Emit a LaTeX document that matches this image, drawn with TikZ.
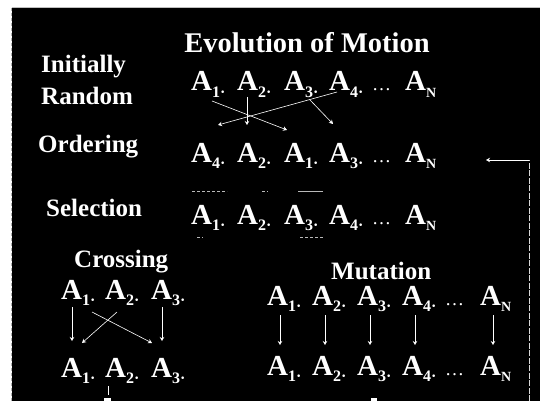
\documentclass[tikz,border=0pt]{standalone}
\usepackage{fontspec}
\setmainfont{Liberation Serif}
\usetikzlibrary{arrows.meta,calc}
% one entry "A_i." and the last entry "A_N"
\newcommand\Aent[1]{A\raisebox{-0.22em}{\fontsize{16}{16}\selectfont #1·}}
\newcommand\Aend{A\raisebox{-0.22em}{\fontsize{14}{14}\selectfont N}}
\newcommand\Adots{\fontsize{19}{19}\selectfont\mdseries\dots}
\begin{document}
\begin{tikzpicture}[x=1pt,y=-1pt,
  ent/.style={anchor=base west,inner sep=0pt,text=white,font=\fontsize{29}{29}\selectfont\bfseries},
  lbl/.style={anchor=base west,inner sep=0pt,text=white,font=\fontsize{25}{30}\selectfont\bfseries},
  ttl/.style={anchor=base,inner sep=0pt,text=white,font=\fontsize{28.5}{30}\selectfont\bfseries},
  link/.style={white,line width=0.6pt,-{Stealth[length=4pt,width=4.5pt]}},
  seldash/.style={gray!55,line width=0.6pt,dash pattern=on 2.5pt off 2.5pt},
  loopline/.style={white!85!black,line width=0.6pt,dash pattern=on 6pt off 1.5pt}]
\useasboundingbox (0,0) rectangle (540,401);
\fill[white] (0,0) rectangle (540,401);
\fill[black] (12,8) rectangle (540,401);
\draw[gray!60,line width=0.5pt,dash pattern=on 3pt off 2pt] (11,8) -- (11,401);
\draw[gray!50,line width=0.5pt] (12,7.7) -- (540,7.7);

% title and stage labels
\node[ttl] (title) at (307,53) {Evolution of Motion};
\node[lbl] (init) at (41,73) {Initially};
\node[lbl] (rand) at (41,105) {Random};
\node[lbl] (ord) at (38,152) {Ordering};
\node[lbl] (sel) at (46,216) {Selection};
\node[lbl] (cross) at (74,267) {Crossing};
\node[lbl] (mut) at (331,279) {Mutation};

% initial population
\node[ent] (r1a1) at (191,91) {\Aent{1}};
\node[ent] (r1a2) at (237,91) {\Aent{2}};
\node[ent] (r1a3) at (284,91) {\Aent{3}};
\node[ent] (r1a4) at (329,91) {\Aent{4}};
\node[ent] (r1d) at (372,91) {\Adots};
\node[ent] (r1an) at (405,91) {\Aend};

% ordered population
\node[ent] (r2a1) at (191,162) {\Aent{4}};
\node[ent] (r2a2) at (237,162) {\Aent{2}};
\node[ent] (r2a3) at (284,162) {\Aent{1}};
\node[ent] (r2a4) at (329,162) {\Aent{3}};
\node[ent] (r2d) at (372,162) {\Adots};
\node[ent] (r2an) at (405,162) {\Aend};

% selected population, the kept ones faintly framed
\node[ent] (r3a1) at (191,224) {\Aent{1}};
\node[ent] (r3a2) at (237,224) {\Aent{2}};
\node[ent] (r3a3) at (284,224) {\Aent{3}};
\node[ent] (r3a4) at (329,224) {\Aent{4}};
\node[ent] (r3d) at (372,224) {\Adots};
\node[ent] (r3an) at (405,224) {\Aend};
\draw[seldash] ($(r3a1.base west)+(1,-33)$) -- ($(r3a1.base west)+(36,-33)$);
\draw[seldash] ($(r3a2.base west)+(25,-33)$) -- ($(r3a2.base west)+(31,-33)$);
\draw[gray!55,line width=0.6pt] ($(r3a3.base west)+(14,-33)$) -- ($(r3a3.base west)+(39,-33)$);
\draw[seldash] ($(r3a1.base west)+(6,13)$) -- ($(r3a1.base west)+(12,13)$);
\draw[seldash] ($(r3a3.base west)+(16,13)$) -- ($(r3a3.base west)+(39,13)$);

% reordering arrows
\draw[link] ($(r1a1.base west)+(21,10)$) -- ($(r2a3.base west)+(3,-32)$);
\draw[link] ($(r1a2.base west)+(10,6)$) -- ($(r2a2.base west)+(10,-37)$);
\draw[link] ($(r1a4.base west)+(8,1)$) -- coordinate[pos=0.23] (fork) ($(r2a1.base west)+(27,-37)$);
\draw[link] (fork) -- ($(r2a4.base west)+(4,-38)$);

% crossing
\node[ent] (c1a1) at (61,299) {\Aent{1}};
\node[ent] (c1a2) at (105,299) {\Aent{2}};
\node[ent] (c1a3) at (151,299) {\Aent{3}};
\node[ent] (c2a1) at (61,377) {\Aent{1}};
\node[ent] (c2a2) at (105,377) {\Aent{2}};
\node[ent] (c2a3) at (151,377) {\Aent{3}};
\draw[link] ($(c1a1.base west)+(11,8)$) -- ($(c2a1.base west)+(11,-36)$);
\draw[link] ($(c1a3.base west)+(11,8)$) -- ($(c2a3.base west)+(11,-36)$);
\draw[link] ($(c1a2.base west)+(12,13)$) -- ($(c2a1.base west)+(21,-34)$);
\draw[link] ($(c1a1.base west)+(31,13)$) -- ($(c2a3.base west)+(1,-34)$);
\draw[white,line width=0.5pt] ($(c2a2.base west)+(3,9)$) -- ($(c2a2.base west)+(3,18)$);
\fill[white] ($(c2a2.base west)+(-1,21)$) rectangle ($(c2a2.base west)+(6,24)$);

% mutation
\node[ent] (m1a1) at (267,305) {\Aent{1}};
\node[ent] (m1a2) at (312,305) {\Aent{2}};
\node[ent] (m1a3) at (357,305) {\Aent{3}};
\node[ent] (m1a4) at (402,305) {\Aent{4}};
\node[ent] (m1d) at (445,305) {\Adots};
\node[ent] (m1an) at (480,305) {\Aend};
\node[ent] (m2a1) at (267,375) {\Aent{1}};
\node[ent] (m2a2) at (312,375) {\Aent{2}};
\node[ent] (m2a3) at (357,375) {\Aent{3}};
\node[ent] (m2a4) at (402,375) {\Aent{4}};
\node[ent] (m2d) at (445,375) {\Adots};
\node[ent] (m2an) at (480,375) {\Aend};
\foreach \i in {a1,a2,a3,a4,an}
  \draw[link] ($(m1\i.base west)+(13,10)$) -- ($(m2\i.base west)+(13,-30)$);
\fill[white] ($(m2a3.base west)+(14,23)$) rectangle ($(m2a3.base west)+(20,26)$);

% feedback loop back to ordering
\coordinate (loopbot) at (529,401);
\coordinate (looptop) at (529,160);
\draw[loopline] (loopbot) -- (looptop);
\draw[link] (looptop) -- ($(r2an.base west)+(81,-2)$);
\end{tikzpicture}
\end{document}
